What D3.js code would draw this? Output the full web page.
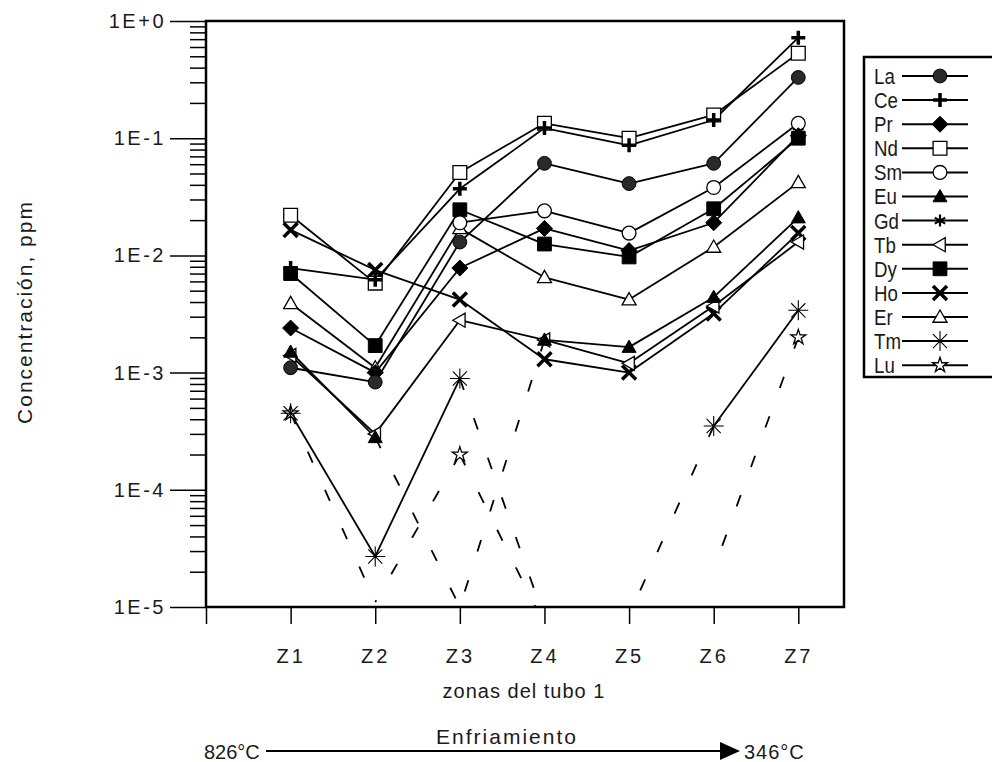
<!DOCTYPE html>
<html lang="es">
<head>
<meta charset="UTF-8">
<title>zonas del tubo 1</title>
<style>
  body { margin: 0; background: #fff; }
  #chart { font-family: "Liberation Sans", Arial, sans-serif; }
  #chart text { fill: #1a1a1a; }
  .frame { fill: none; stroke: #000; stroke-width: 2.5px; }
  .axis path { stroke: #000; stroke-width: 2.5px; }
  .axis line { stroke: #000; stroke-width: 1.5px; }
  .axis text { font-family: "Liberation Sans", Arial, sans-serif; }
  .serie { fill: none; stroke: #000; stroke-width: 1.8px; }
  .legend text { font-size: 22px; }
</style>
<script src="https://d3js.org/d3.v7.min.js"></script>
</head>
<body>
<div id="chart"></div>
<script>
// zonas y elementos
const zones = ["Z1", "Z2", "Z3", "Z4", "Z5", "Z6", "Z7"];
const elements = ["La", "Ce", "Pr", "Nd", "Sm", "Eu", "Gd", "Tb", "Dy", "Ho", "Er", "Tm", "Lu"];

// concentraciones (ppm), null = sin dato
const La = [1.1e-3, 8.3e-4, 1.3e-2, 6.1e-2, 4.1e-2, 6.1e-2, 3.3e-1];
const Ce = [7.8e-3, 6.2e-3, 3.7e-2, 1.22e-1, 8.7e-2, 1.43e-1, 7.2e-1];
const Pr = [2.4e-3, 1.0e-3, 7.8e-3, 1.7e-2, 1.1e-2, 1.9e-2, 1.05e-1];
const Nd = [2.2e-2, 5.8e-3, 5.1e-2, 1.34e-1, 1.0e-1, 1.58e-1, 5.3e-1];
const Sm = [null, null, 1.9e-2, 2.4e-2, 1.55e-2, 3.8e-2, 1.34e-1];
const Eu = [1.5e-3, 2.8e-4, 1.0e-5, 1.9e-3, 1.65e-3, 4.4e-3, 2.1e-2];
const Gd = [null, null, null, null, null, null, 1.25e-1];
const Tb = [1.4e-3, 3.0e-4, 2.8e-3, 1.9e-3, 1.2e-3, 3.7e-3, 1.3e-2];
const Dy = [7.0e-3, 1.7e-3, 2.45e-2, 1.25e-2, 9.7e-3, 2.5e-2, 1.0e-1];
const Ho = [1.65e-2, 7.5e-3, 4.2e-3, 1.3e-3, 1.0e-3, 3.2e-3, 1.55e-2];
const Er = [3.9e-3, 1.1e-3, 1.7e-2, 6.5e-3, 4.2e-3, 1.18e-2, 4.2e-2];
const Tm = [4.5e-4, 2.7e-5, 8.9e-4, 8.0e-6, 8.5e-6, 3.5e-4, 3.4e-3];
const Lu = [4.5e-4, 1.1e-5, 2.0e-4, 7.0e-6, null, 2.1e-5, 2.0e-3];

// puntos bajo el limite de deteccion: [elemento, indice de zona] (trazo discontinuo, sin marcador)
const belowDetection = [["Eu", 2], ["Tm", 3], ["Tm", 4], ["Lu", 1], ["Lu", 3], ["Lu", 5]];

// ticks del eje y
const yMajor = [1, 1e-1, 1e-2, 1e-3, 1e-4, 1e-5];
const yLabels = ["1E+0", "1E-1", "1E-2", "1E-3", "1E-4", "1E-5"];

const values = { La, Ce, Pr, Nd, Sm, Eu, Gd, Tb, Dy, Ho, Er, Tm, Lu };

const W = 992, H = 762;
const plot = { left: 206, right: 844, top: 21, bottom: 607 };

const svg = d3.select("#chart").append("svg")
    .attr("width", W)
    .attr("height", H);

const x = d3.scaleLinear().domain([0, 7.54]).range([plot.left, plot.right]);
const y = d3.scaleLog().domain([1e-5, 1]).range([plot.bottom, plot.top]);

svg.append("defs").append("clipPath").attr("id", "clip")
    .append("rect")
    .attr("x", plot.left).attr("y", plot.top)
    .attr("width", plot.right - plot.left).attr("height", plot.bottom - plot.top);

// minor ticks on y
const minors = [];
for (let e = -5; e < 0; e++) for (let k = 2; k <= 9; k++) minors.push(k * Math.pow(10, e));

svg.append("g")
    .attr("class", "axis")
    .attr("transform", `translate(${plot.left},0)`)
    .call(d3.axisLeft(y).tickValues(minors).tickSize(16).tickFormat(""))
    .call(g => g.select(".domain").remove());

svg.append("g")
    .attr("class", "axis")
    .attr("transform", `translate(${plot.left},0)`)
    .call(d3.axisLeft(y).tickValues(yMajor).tickSize(36).tickPadding(4)
        .tickFormat((d, i) => yLabels[i]))
    .call(g => g.select(".domain").remove())
    .selectAll("text")
    .style("font-size", "20px")
    .style("letter-spacing", "2.5px");

// x axis
svg.append("g")
    .attr("class", "axis")
    .attr("transform", `translate(0,${plot.bottom})`)
    .call(d3.axisBottom(x).tickValues(d3.range(0, 8)).tickSize(17).tickPadding(25)
        .tickFormat(d => d === 0 ? "" : zones[d - 1]))
    .call(g => g.select(".domain").remove())
    .selectAll("text")
    .style("font-size", "20px")
    .style("letter-spacing", "3px");

// frame
svg.append("rect")
    .attr("class", "frame")
    .attr("x", plot.left).attr("y", plot.top)
    .attr("width", plot.right - plot.left).attr("height", plot.bottom - plot.top);

// marker shapes
function markerPath(name) {
    const s = 7;
    switch (name) {
        case "La": return d3.symbol(d3.symbolCircle, 150)();
        case "Sm": return d3.symbol(d3.symbolCircle, 150)();
        case "Nd": return d3.symbol(d3.symbolSquare, 190)();
        case "Dy": return d3.symbol(d3.symbolSquare, 190)();
        case "Pr": return `M0,${-s - 1}L${s + 1},0L0,${s + 1}L${-s - 1},0Z`;
        case "Eu": return `M0,${-s}L${s},${s * 0.75}L${-s},${s * 0.75}Z`;
        case "Er": return `M0,${-s}L${s},${s * 0.75}L${-s},${s * 0.75}Z`;
        case "Tb": return `M${-s},0L${s * 0.75},${-s}L${s * 0.75},${s}Z`;
        case "Ce": return `M${-s},0H${s}M0,${-s}V${s}`;
        case "Ho": return `M${-s},${-s}L${s},${s}M${s},${-s}L${-s},${s}`;
        case "Gd": {
            let p = "";
            for (let a = 0; a < 6; a++) {
                const t = a * Math.PI / 3 + Math.PI / 2;
                p += `M0,0L${6 * Math.cos(t)},${6 * Math.sin(t)}`;
            }
            return p;
        }
        case "Tm": {
            let p = "";
            for (let a = 0; a < 8; a++) {
                const t = a * Math.PI / 4;
                p += `M0,0L${10 * Math.cos(t)},${10 * Math.sin(t)}`;
            }
            return p;
        }
        case "Lu": return d3.symbol(d3.symbolStar, 70)();
    }
}

function markerStyle(sel, name) {
    const filled = ["La", "Dy", "Pr", "Eu"];
    const open = ["Sm", "Nd", "Er", "Tb", "Lu"];
    if (filled.includes(name)) {
        sel.attr("fill", name === "La" ? "#2a2a2a" : "#000").attr("stroke", "#000").attr("stroke-width", 1);
    } else if (open.includes(name)) {
        sel.attr("fill", "#fff").attr("stroke", "#000").attr("stroke-width", 1.3);
    } else {
        const w = { Ce: 3.5, Ho: 3.5, Gd: 2.2, Tm: 1.1 }[name];
        sel.attr("fill", "none").attr("stroke", "#000").attr("stroke-width", w);
    }
}

const isND = (name, i) => belowDetection.some(d => d[0] === name && d[1] === i);

// lines
const lines = svg.append("g").attr("clip-path", "url(#clip)");
elements.forEach(name => {
    const v = values[name];
    for (let i = 0; i < v.length - 1; i++) {
        if (v[i] == null || v[i + 1] == null) continue;
        const dashed = isND(name, i) || isND(name, i + 1);
        // draw from detected point towards the non-detected one
        const a = isND(name, i) ? i + 1 : i;
        const b = a === i ? i + 1 : i;
        lines.append("line")
            .attr("class", "serie")
            .attr("x1", x(a + 1)).attr("y1", y(v[a]))
            .attr("x2", x(b + 1)).attr("y2", y(v[b]))
            .attr("stroke-dasharray", dashed ? "12,30" : null);
    }
});

// markers
const marks = svg.append("g");
elements.slice().reverse().forEach(name => {
    values[name].forEach((val, i) => {
        if (val == null || isND(name, i)) return;
        marks.append("path")
            .attr("d", markerPath(name))
            .attr("transform", `translate(${x(i + 1)},${y(val)})`)
            .call(markerStyle, name);
    });
});

// axis titles
svg.append("text")
    .attr("transform", "translate(32,312) rotate(-90)")
    .attr("text-anchor", "middle")
    .style("font-size", "21px")
    .style("letter-spacing", "2px")
    .text("Concentración, ppm");

svg.append("text")
    .attr("x", 524).attr("y", 698)
    .attr("text-anchor", "middle")
    .style("font-size", "20px")
    .style("letter-spacing", "1px")
    .text("zonas del tubo 1");

// cooling arrow
svg.append("text")
    .attr("x", 507).attr("y", 744)
    .attr("text-anchor", "middle")
    .style("font-size", "21px")
    .style("letter-spacing", "2px")
    .text("Enfriamiento");

svg.append("text")
    .attr("x", 204).attr("y", 759)
    .style("font-size", "20px")
    .text("826°C");

svg.append("line")
    .attr("x1", 266).attr("y1", 751).attr("x2", 722).attr("y2", 751)
    .attr("stroke", "#000").attr("stroke-width", 2);

svg.append("path")
    .attr("d", "M720,742L740,751L720,760Z")
    .attr("fill", "#000");

svg.append("text")
    .attr("x", 744).attr("y", 759)
    .style("font-size", "20px")
    .style("letter-spacing", "1px")
    .text("346°C");

// legend
const legend = svg.append("g").attr("class", "legend");
legend.append("rect")
    .attr("x", 864).attr("y", 57)
    .attr("width", 140).attr("height", 320)
    .attr("fill", "#fff").attr("stroke", "#000").attr("stroke-width", 2.5);

elements.forEach((name, i) => {
    const ly = 76 + i * 24.1;
    legend.append("text")
        .attr("transform", `translate(874,${ly}) scale(0.85,1)`)
        .attr("dy", "0.36em")
        .text(name);
    legend.append("line")
        .attr("x1", 902).attr("x2", 968)
        .attr("y1", ly).attr("y2", ly)
        .attr("stroke", "#000").attr("stroke-width", 2);
    legend.append("path")
        .attr("d", markerPath(name))
        .attr("transform", `translate(940,${ly})`)
        .call(markerStyle, name);
});
</script>
</body>
</html>
